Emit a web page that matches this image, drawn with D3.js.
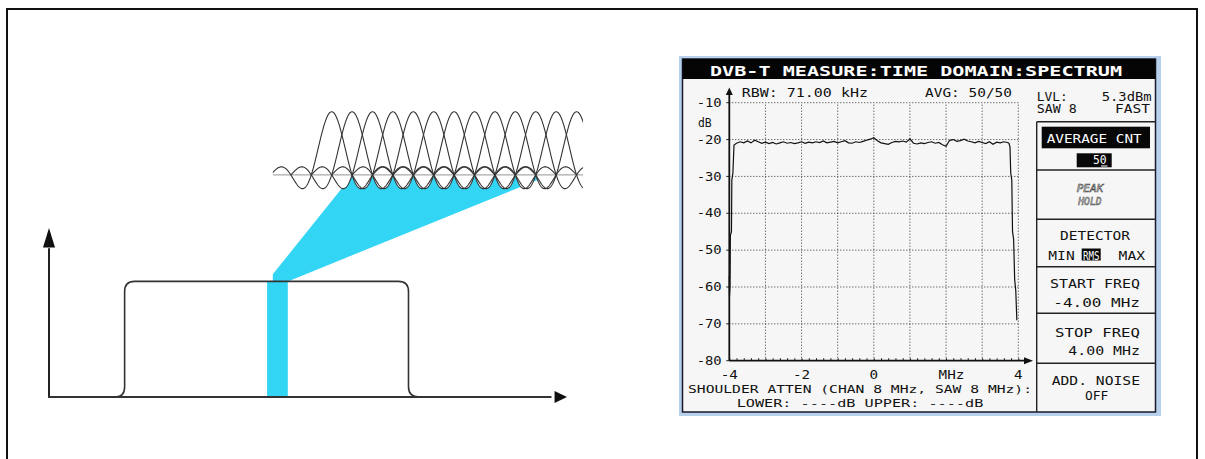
<!DOCTYPE html>
<html><head><meta charset="utf-8">
<script src="https://cdn.jsdelivr.net/npm/d3@7"></script>
<style>html,body{margin:0;padding:0;background:#fff;} svg{display:block}</style>
</head><body>
<svg id="c" width="1205" height="459"></svg>
<script>
// ---------------- DATA ----------------
// Measured spectrum trace (MHz, dB)
const traceFreq = [-4.00,-3.995,-3.98,-3.97,-3.94,-3.93,-3.90,-3.87,-3.80,
 -3.7,-3.6,-3.5,-3.4,-3.3,-3.2,-3.1,-3.0,-2.9,-2.8,-2.7,-2.6,-2.5,-2.4,-2.3,-2.2,-2.1,
 -2.0,-1.9,-1.8,-1.7,-1.6,-1.5,-1.4,-1.3,-1.2,-1.1,-1.0,-0.9,-0.8,-0.7,-0.6,-0.5,-0.4,
 -0.3,-0.2,-0.1,0.0,0.1,0.2,0.3,0.4,0.5,0.6,0.7,0.8,0.9,1.0,1.1,1.2,1.3,1.4,1.5,1.6,
 1.7,1.8,1.9,2.0,2.1,2.2,2.3,2.4,2.5,2.6,2.7,2.8,2.9,3.0,3.1,3.2,3.3,3.4,3.5,3.6,3.7,
 3.74,3.77,3.79,3.82,3.84,3.87,3.90,3.93,3.96];
const traceLevel = [-57,-62.5,-60,-46,-45,-31,-29,-21.5,-21.0,
 -20.6,-20.9,-20.4,-20.9,-20.2,-20.6,-21.0,-20.7,-21.1,-20.8,-21.2,-20.9,-20.6,-21.0,-20.8,-21.1,-20.9,
 -20.6,-21.0,-20.7,-20.9,-20.6,-20.8,-20.4,-20.9,-20.7,-20.5,-20.9,-20.6,-20.3,-20.9,-21.0,-20.6,-20.8,
 -20.5,-20.2,-19.9,-19.5,-20.3,-20.9,-21.1,-21.3,-20.8,-20.5,-20.6,-20.4,-20.7,-19.8,-21.0,-21.2,-20.9,-21.1,-20.8,-20.6,
 -21.0,-20.8,-21.4,-21.8,-20.2,-20.0,-20.5,-20.3,-19.9,-20.4,-20.6,-20.9,-20.5,-20.8,-21.1,-20.6,-21.3,-20.7,-20.9,-20.6,-20.8,
 -21.0,-22,-29,-31,-45,-47,-58,-61,-69];
const yTickValues = [-10,-20,-30,-40,-50,-60,-70,-80];
const yTickLabels = ["-10","-20","-30","-40","-50","-60","-70","-80"];
const xGridValues = [-3,-2,-1,0,1,2,3,4];
const xTickValues = [-4,-2,0,2.15,4];
const xTickLabels = ["-4","-2","0","MHz","4"];
// Schematic: OFDM subcarrier indices and channel mask (diagram units 0..100)
const subcarriers = [0,1,2,3,4,5,6,7,8,9,10,11,12];
const maskX = [13.2,14.6,69.4,71.1];   // foot L, edge L, edge R, foot R
const maskTop = 68.4;
const sliceX = [42.1,46.1];

// ---------------- SETUP ----------------
const svg = d3.select("#c");
const FONT = "'DejaVu Sans Mono', monospace";

svg.append("path").attr("d","M7,459 L7,9 L1197,9 L1197,459")
  .attr("fill","none").attr("stroke","#111").attr("stroke-width",2);

// ---------------- LEFT SCHEMATIC ----------------
const sx = d3.scaleLinear().domain([0,100]).range([49,567]);
const sy = d3.scaleLinear().domain([0,100]).range([397,228]);
const L = svg.append("g");

const T = 3.94, c0 = 54.57, amp = 37.4, base = 131.4;
const gx0 = 43.2, gx1 = 103.1;   // visible extent of the carrier group
const sinc = u => u === 0 ? 1 : Math.sin(Math.PI*u)/(Math.PI*u);
function lowEnv(xv){
  let m = 0;
  subcarriers.forEach(k=>{
    const u = (xv - (c0 + k*T))/T;
    if (Math.abs(u) <= 3) m = Math.min(m, sinc(u));
  });
  return base + amp*m;
}
const envPts = d3.range(gx0, gx1+0.01, 0.1).map(v=>[v, lowEnv(v)]);
const defs = svg.append("defs");
const cp = d3.path();
cp.moveTo(sx(gx0), sy(0));
envPts.forEach(p=>cp.lineTo(sx(p[0]), sy(p[1])));
cp.lineTo(sx(gx1), sy(0));
cp.closePath();
defs.append("clipPath").attr("id","envclip").append("path").attr("d", cp.toString());
defs.append("clipPath").attr("id","grpclip").append("rect")
  .attr("x",sx(gx0)).attr("y",0).attr("width",sx(gx1)-sx(gx0)).attr("height",459);

const fanTopL = [58.6, base], fanTopR = [96.7, base];
L.append("path")
  .attr("d", d3.line()([[sx(sliceX[0]),sy(maskTop)],[sx(fanTopL[0]),sy(fanTopL[1])],
                       [sx(fanTopR[0]),sy(fanTopR[1])],[sx(sliceX[1]),sy(maskTop)]]))
  .attr("fill","#33d5f5").attr("clip-path","url(#envclip)");
L.append("rect").attr("x",sx(sliceX[0])).attr("y",sy(maskTop))
  .attr("width",sx(sliceX[1])-sx(sliceX[0])).attr("height",sy(0)-sy(maskTop))
  .attr("fill","#33d5f5");

const G = L.append("g").attr("clip-path","url(#grpclip)");
G.append("line").attr("x1",sx(gx0)).attr("x2",sx(gx1)).attr("y1",sy(base)).attr("y2",sy(base))
  .attr("stroke","#aaa").attr("stroke-width",1.3);
const line = d3.line();
subcarriers.forEach(k=>{
  const c = c0 + k*T;
  const pts = d3.range(-3, 3.001, 0.02).map(u=>[sx(c+u*T), sy(base + amp*sinc(u))]);
  G.append("path").attr("d", line(pts)).attr("fill","none").attr("stroke","#333").attr("stroke-width",1.1);
});

const mp = d3.path();
mp.moveTo(sx(maskX[0])-2, sy(0));
mp.quadraticCurveTo(sx(maskX[1]), sy(0), sx(maskX[1]), sy(6));
mp.lineTo(sx(maskX[1]), sy(maskTop-6));
mp.quadraticCurveTo(sx(maskX[1]), sy(maskTop), sx(maskX[1])+10, sy(maskTop));
mp.lineTo(sx(maskX[2])-10, sy(maskTop));
mp.quadraticCurveTo(sx(maskX[2]), sy(maskTop), sx(maskX[2]), sy(maskTop-6));
mp.lineTo(sx(maskX[2]), sy(6));
mp.quadraticCurveTo(sx(maskX[2]), sy(0), sx(maskX[3])+2, sy(0));
L.append("path").attr("d", mp.toString()).attr("fill","none").attr("stroke","#333").attr("stroke-width",1.6);

L.append("line").attr("x1",sx(0)).attr("x2",sx(0)).attr("y1",sy(0)).attr("y2",sy(88))
  .attr("stroke","#222").attr("stroke-width",2);
L.append("path").attr("d",`M${sx(0)},${sy(100)} L${sx(0)-6},${sy(88.5)} L${sx(0)+6},${sy(88.5)} Z`).attr("fill","#111");
L.append("line").attr("x1",sx(-0.2)).attr("x2",sx(97)).attr("y1",sy(0)).attr("y2",sy(0))
  .attr("stroke","#333").attr("stroke-width",2);
L.append("path").attr("d",`M${sx(100)},${sy(0)} L${sx(97.6)},${sy(0)-6} L${sx(97.6)},${sy(0)+6} Z`).attr("fill","#111");

// ---------------- RIGHT: ANALYZER SCREEN ----------------
const R = svg.append("g");
R.append("rect").attr("x",679).attr("y",56).attr("width",482).attr("height",360).attr("fill","#b7d1ec");
R.append("rect").attr("x",682.5).attr("y",59).attr("width",473).attr("height",353)
  .attr("fill","#f6f6f6").attr("stroke","#1a1a2a").attr("stroke-width",1.5);
R.append("rect").attr("x",682.5).attr("y",59).attr("width",473).attr("height",20).attr("fill","#050505");

function txt(x0, y0, s, len, o={}){
  const t = R.append("text").attr("x",x0).attr("y",y0).text(s)
    .attr("font-family",FONT).attr("font-size",o.size||11.5)
    .attr("fill",o.fill||"#111").attr("text-anchor",o.anchor||"start");
  if (len) t.attr("textLength",len).attr("lengthAdjust","spacingAndGlyphs");
  if (o.weight) t.attr("font-weight",o.weight);
  if (o.style) t.attr("font-style",o.style);
  if (o.stroke) t.attr("stroke",o.stroke).attr("stroke-width",o.sw||0.6);
  return t;
}
txt(710, 75.5, "DVB-T MEASURE:TIME DOMAIN:SPECTRUM", 412, {size:13.5, weight:"bold", fill:"#fff"});

const x = d3.scaleLinear().domain([-4,4]).range([729.3,1018.3]);
const y = d3.scaleLinear().domain([-80,-10]).range([360.7,102.7]);

R.append("g").selectAll("line").data(yTickValues.filter(v=>v>-80)).join("line")
  .attr("x1",x(-4)).attr("x2",x(4)).attr("y1",d=>y(d)).attr("y2",d=>y(d))
  .attr("stroke","#333").attr("stroke-width",1).attr("stroke-dasharray","1,2");
R.append("g").selectAll("line").data(xGridValues).join("line")
  .attr("x1",d=>x(d)).attr("x2",d=>x(d)).attr("y1",y(-80)).attr("y2",y(-10))
  .attr("stroke","#333").attr("stroke-width",1).attr("stroke-dasharray","1,2");
const xa = d3.axisBottom(x).tickValues(d3.range(-4,4.001,0.2)).tickSize(-2.5).tickFormat("");
const xag = R.append("g").attr("transform",`translate(0,${y(-80)})`).call(xa);
xag.select(".domain").remove();
xag.selectAll(".tick line").attr("stroke","#222");
R.append("g").selectAll("line").data(yTickValues).join("line")
  .attr("x1",x(-4)-3).attr("x2",x(-4)).attr("y1",d=>y(d)).attr("y2",d=>y(d)).attr("stroke","#222");

R.append("line").attr("x1",x(-4)).attr("x2",x(-4)).attr("y1",y(-80)).attr("y2",92)
  .attr("stroke","#111").attr("stroke-width",1.8);
R.append("path").attr("d",`M${x(-4)},87.5 L${x(-4)-3.5},95 L${x(-4)+3.5},95 Z`).attr("fill","#111");
R.append("line").attr("x1",x(-4)).attr("x2",1026).attr("y1",y(-80)).attr("y2",y(-80))
  .attr("stroke","#111").attr("stroke-width",1.8);
R.append("path").attr("d",`M1033,${y(-80)} L1024,${y(-80)-3.5} L1024,${y(-80)+3.5} Z`).attr("fill","#111");

R.append("path").datum(d3.zip(traceFreq, traceLevel))
  .attr("d", d3.line().x(d=>x(d[0])).y(d=>y(d[1])))
  .attr("fill","none").attr("stroke","#111").attr("stroke-width",1.2);

yTickValues.forEach((v,i)=> txt(721.7, y(v)+4.2, yTickLabels[i], 25, {anchor:"end", size:12.5}));
txt(698, 126.7, "dB", 13.7);
xTickValues.forEach((v,i)=>{
  const s = xTickLabels[i];
  txt(x(v), 379, s, s.length*8.6, {anchor:"middle"});
});
txt(741.7, 96.7, "RBW: 71.00 kHz", 126.3);
txt(925, 96.7, "AVG: 50/50", 87);
txt(688, 393.3, "SHOULDER ATTEN (CHAN 8 MHz, SAW 8 MHz):", 344, {size:10.5});
txt(736.7, 406.7, "LOWER: ----dB  UPPER: ----dB", 246.6, {size:10.5});

txt(1036.7, 100.7, "LVL:", 31);
txt(1101.7, 100.7, "5.3dBm", 50);
txt(1036.7, 113.3, "SAW 8", 40);
txt(1115, 113.3, "FAST", 35);
const boxY = [121.7, 170, 219.3, 266.7, 313.3, 363.3, 412];
R.append("line").attr("x1",1036.7).attr("x2",1036.7).attr("y1",boxY[0]).attr("y2",412).attr("stroke","#222").attr("stroke-width",1.4);
R.selectAll(".sep").data(boxY.slice(0,6)).join("line").attr("class","sep")
  .attr("x1",1036.7).attr("x2",1156).attr("y1",d=>d).attr("y2",d=>d).attr("stroke","#222").attr("stroke-width",1.4);
R.append("rect").attr("x",1041.7).attr("y",126.7).attr("width",108.3).attr("height",21.6).attr("fill","#080808");
txt(1046.7, 143.3, "AVERAGE CNT", 95, {fill:"#fff"});
R.append("rect").attr("x",1076.7).attr("y",153.3).attr("width",35).attr("height",14).attr("fill","#080808");
txt(1093, 164, "50", 13.7, {fill:"#fff"});
R.append("line").attr("x1",1101).attr("x2",1107.5).attr("y1",166).attr("y2",166).attr("stroke","#fff").attr("stroke-width",1);
txt(1076.7, 191.7, "PEAK", 26.6, {fill:"#fff", stroke:"#444", style:"italic", size:11});
txt(1078.3, 205, "HOLD", 23.3, {fill:"#fff", stroke:"#444", style:"italic", size:11});
txt(1060, 240, "DETECTOR", 70);
R.append("rect").attr("x",1081.7).attr("y",248.5).attr("width",19).attr("height",12).attr("fill","#080808");
txt(1048.3, 260, "MIN", 26.4);
txt(1083, 259.5, "RMS", 16.5, {fill:"#fff"});
txt(1118.6, 260, "MAX", 26.4);
txt(1050, 287.5, "START FREQ", 90);
txt(1053.3, 306.5, "-4.00 MHz", 86.7);
txt(1055, 336.5, "STOP FREQ", 85);
txt(1068.3, 355, "4.00 MHz", 71.7);
txt(1051.7, 385, "ADD. NOISE", 88.3);
txt(1085, 400, "OFF", 23.3);
</script>
</body></html>
